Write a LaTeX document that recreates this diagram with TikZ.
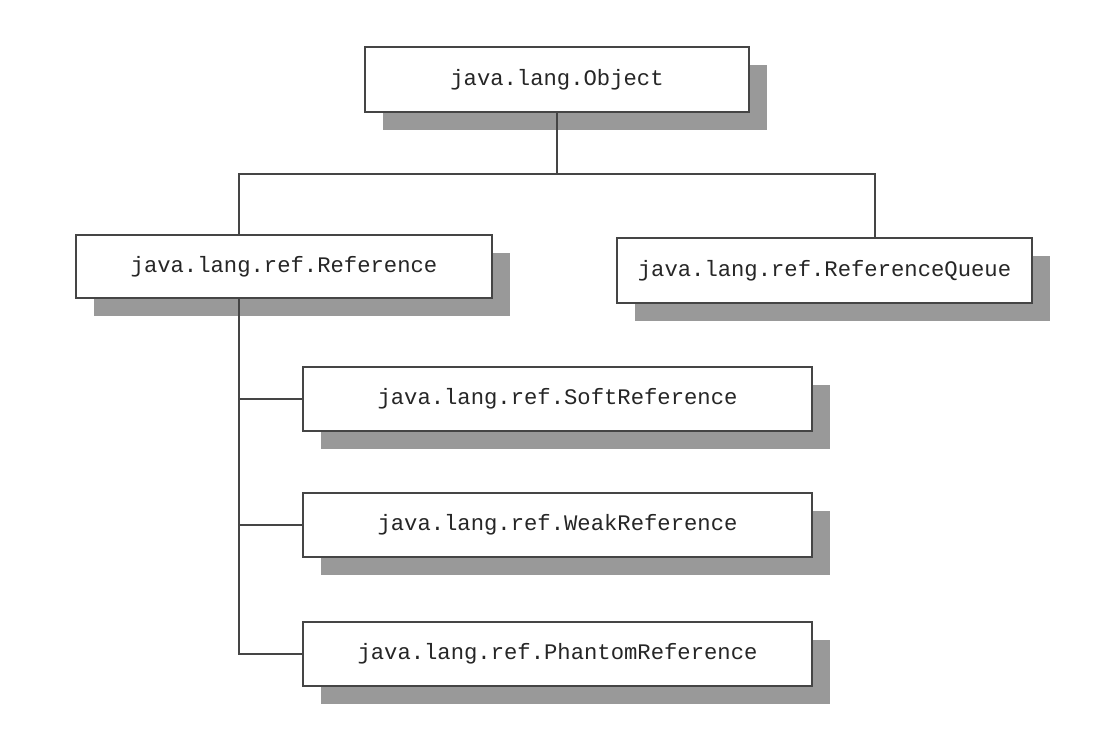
\documentclass[tikz,border=0pt]{standalone}
\usepackage{fontspec}
\setmonofont{Liberation Mono}
\usepackage{tikz}
\usetikzlibrary{shadows}

\definecolor{edgegray}{HTML}{454545}
\definecolor{shadegray}{HTML}{999999}

\tikzset{
    classbox/.style={draw=edgegray, line width=1.3pt, fill=white, rectangle,
        font=\ttfamily\fontsize{15.8}{18}\selectfont, text=black!85,
        drop shadow={shadow xshift=0.45cm, shadow yshift=-0.45cm, fill=shadegray, opacity=1}},
    link/.style={draw=edgegray, line width=1.3pt}
}

\begin{document}
\begin{tikzpicture}[x=0.025cm, y=-0.025cm]
    % page frame
    \useasboundingbox (0,0) rectangle (1116,746);

    % draw class boxes
    \node[classbox, minimum width=9.6cm, minimum height=1.62cm] (obj) at (557,79.5) {java.lang.Object};
    \node[classbox, minimum width=10.4cm, minimum height=1.58cm] (ref) at (284,266.5) {java.lang.ref.Reference};
    \node[classbox, minimum width=10.37cm, minimum height=1.62cm] (queue) at (824.5,270.5) {java.lang.ref.ReferenceQueue};
    \node[classbox, minimum width=12.72cm, minimum height=1.6cm] (soft) at (557.5,399) {java.lang.ref.SoftReference};
    \node[classbox, minimum width=12.72cm, minimum height=1.6cm] (weak) at (557.5,525) {java.lang.ref.WeakReference};
    \node[classbox, minimum width=12.72cm, minimum height=1.6cm] (phantom) at (557.5,654) {java.lang.ref.PhantomReference};

    % draw branch lines
    \coordinate (lt) at (239,174);
    \coordinate (rt) at (875,174);
    \draw[link] (obj.south) -- (obj.south |- lt);
    \draw[link] (lt |- ref.north) -- (lt) -- (rt) -- (rt |- queue.north);
    \draw[link] (lt |- ref.south) -- (lt |- phantom.west) -- (phantom.west);
    \foreach \n in {soft, weak}
    \draw[link] (lt |- \n.west) -- (\n.west);
\end{tikzpicture}
\end{document}
